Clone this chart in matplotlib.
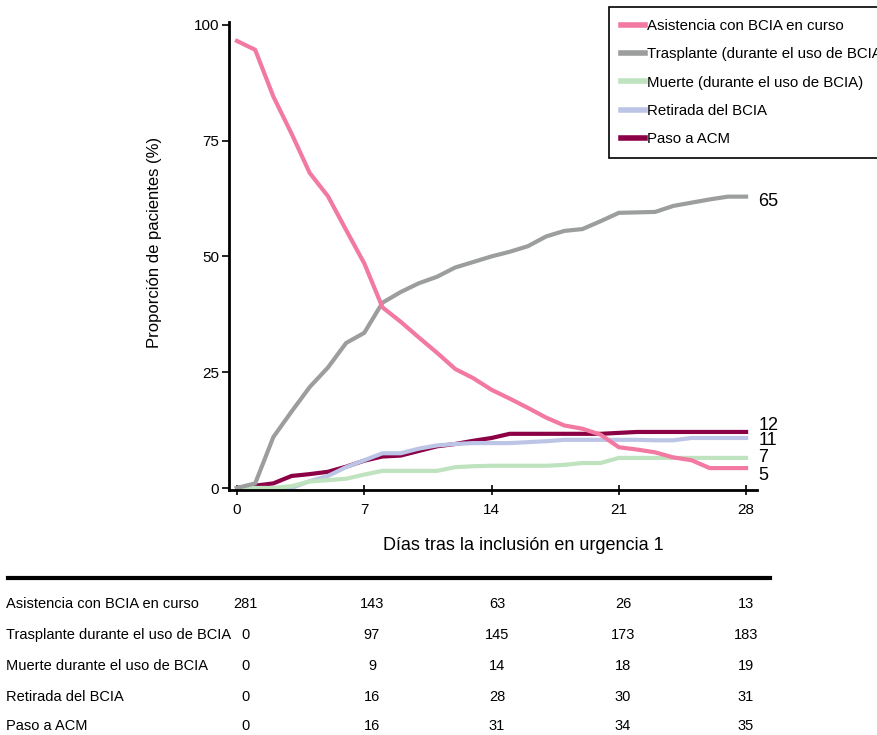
import matplotlib.pyplot as plt
from matplotlib.lines import Line2D

plt.rcParams['font.family'] = ['Liberation Sans', 'DejaVu Sans']

W, H = 877, 735

days = list(range(29))

asistencia = [96.5, 94.6, 84.5, 76.5, 68, 63, 55.7, 48.5, 39, 35.9, 32.5, 29.2, 25.7, 23.7,
              21.2, 19.3, 17.3, 15.2, 13.5, 12.8, 11.5, 8.8, 8.3, 7.7, 6.6, 6.0, 4.3, 4.3, 4.3]
trasplante = [0, 1, 11, 16.5, 21.8, 26, 31.3, 33.5, 40, 42.3, 44.2, 45.6, 47.6, 48.8,
              50, 51, 52.2, 54.3, 55.5, 55.9, 57.6, 59.4, 59.5, 59.6, 60.9, 61.6, 62.3, 62.9, 62.9]
muerte = [0, 0, 0, 0.4, 1.4, 1.7, 2.0, 2.9, 3.7, 3.7, 3.7, 3.7, 4.5, 4.7,
          4.8, 4.8, 4.8, 4.8, 5.0, 5.4, 5.4, 6.5, 6.5, 6.5, 6.5, 6.5, 6.5, 6.5, 6.5]
retirada = [0, 0, 0, 0, 1.5, 2.6, 4.5, 6.0, 7.5, 7.5, 8.5, 9.2, 9.5, 9.7,
            9.7, 9.7, 9.9, 10.1, 10.4, 10.4, 10.4, 10.4, 10.4, 10.3, 10.3, 10.8, 10.8, 10.8, 10.8]
paso_acm = [0, 0.5, 1.0, 2.6, 3.0, 3.5, 4.6, 5.9, 6.8, 7.0, 8.0, 9.0, 9.5, 10.2,
            10.8, 11.7, 11.7, 11.7, 11.7, 11.7, 11.7, 11.9, 12.1, 12.1, 12.1, 12.1, 12.1, 12.1, 12.1]

series_names = ['Asistencia con BCIA en curso', 'Trasplante (durante el uso de BCIA)',
                'Muerte (durante el uso de BCIA)', 'Retirada del BCIA', 'Paso a ACM']
colors = ['#f279a1', '#9c9e9e', '#bfe3bf', '#bcc5e6', '#8c0046']

end_labels = ['65', '12', '11', '7', '5']
end_label_y = [61.8, 13.6, 10.2, 6.5, 2.6]

xticks = [0, 7, 14, 21, 28]
yticks = [0, 25, 50, 75, 100]

table_rows = ['Asistencia con BCIA en curso', 'Trasplante durante el uso de BCIA',
              'Muerte durante el uso de BCIA', 'Retirada del BCIA', 'Paso a ACM']
table_values = [[281, 143, 63, 26, 13],
                [0, 97, 145, 173, 183],
                [0, 9, 14, 18, 19],
                [0, 16, 28, 30, 31],
                [0, 16, 31, 34, 35]]

fig = plt.figure(figsize=(W / 100, H / 100), dpi=100)
ax = fig.add_axes([229 / W, 1 - 490 / H, (757 - 229) / W, (490 - 22) / H])

data = [asistencia, trasplante, muerte, retirada, paso_acm]
for i in [4, 3, 2, 1, 0]:
    ax.plot(days, data[i], color=colors[i], lw=3, solid_joinstyle='round')
handles = [Line2D([], [], color=c, lw=4) for c in colors]

ax.set_xlim(-0.44, 28.6)
ax.set_ylim(-0.43, 100.6)
ax.set_xticks(xticks)
ax.set_yticks(yticks)
ax.spines['top'].set_visible(False)
ax.spines['right'].set_visible(False)
ax.spines['left'].set_linewidth(2)
ax.spines['bottom'].set_linewidth(2)
ax.tick_params(axis='both', labelsize=11, width=1.2)
ax.tick_params(axis='x', direction='inout', length=7, pad=6)
ax.tick_params(axis='y', direction='out', length=5, pad=2)

for lab, yv in zip(end_labels, end_label_y):
    ax.text(28.67, yv, lab, fontsize=13, ha='left', va='center', clip_on=False)

fig.text(155 / W, 1 - 242 / H, 'Proporción de pacientes (%)', rotation=90,
         ha='center', va='center', fontsize=12)
fig.text(523 / W, 1 - 545 / H, 'Días tras la inclusión en urgencia 1',
         ha='center', va='center', fontsize=13)

# legend runs off the right edge, as in the original
leg = fig.legend(handles, series_names, loc='upper left',
                 bbox_to_anchor=(609 / W, 1 - 7 / H), borderaxespad=0,
                 fontsize=10.8, handlelength=1.6, handletextpad=0.12,
                 labelspacing=0.95, borderpad=0.8, fancybox=False,
                 edgecolor='black', framealpha=1)
leg.get_frame().set_linewidth(1.2)

fig.add_artist(Line2D([8 / W, 770 / W], [1 - 578 / H, 1 - 578 / H],
                      color='black', lw=3, transform=fig.transFigure))

row_y = [604, 635, 666, 697, 726]
col_x = [245, 372, 497, 623, 746]
for r, name in enumerate(table_rows):
    fig.text(6 / W, 1 - row_y[r] / H, name, ha='left', va='center', fontsize=10.5)
    for c, v in enumerate(table_values[r]):
        fig.text(col_x[c] / W, 1 - row_y[r] / H, str(v), ha='center', va='center',
                 fontsize=10.5)

fig.savefig('out.png', dpi=100)
